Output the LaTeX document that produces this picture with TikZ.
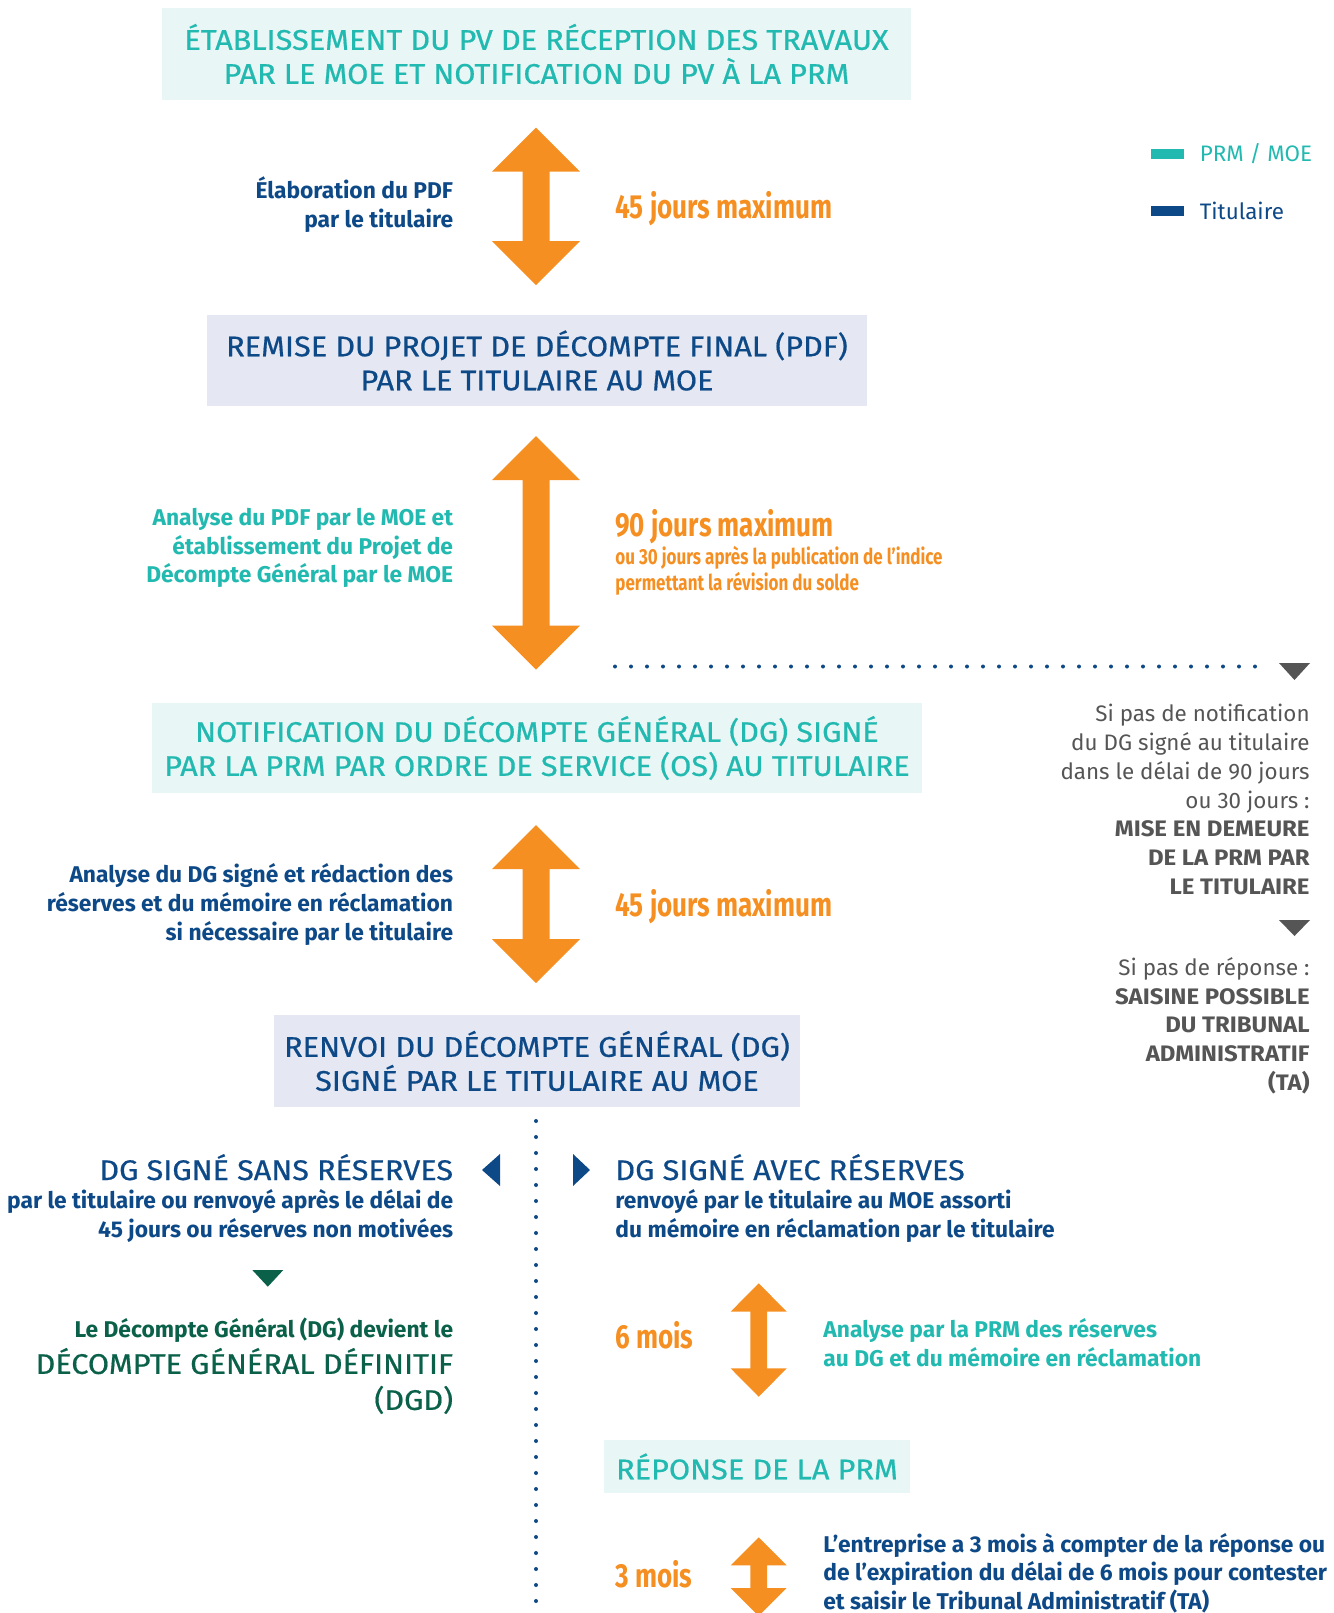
\documentclass[tikz,border=0pt]{standalone}
\usepackage{fontspec}
\setmainfont{Fira Sans}
\newfontfamily\condFont{Fira Sans}[FakeStretch=0.78]
\newfontfamily\titleFam{Fira Sans}[FakeStretch=1.08, FakeBold=0.6]
\newfontfamily\wideBold{Fira Sans}[FakeStretch=1.07]
\usetikzlibrary{positioning}

\definecolor{myTeal}{RGB}{34,185,176}
\definecolor{myNavy}{RGB}{14,73,135}
\definecolor{myOrange}{RGB}{245,143,34}
\definecolor{myGray}{RGB}{85,85,85}
\definecolor{myGreen}{RGB}{10,96,72}
\definecolor{tealBg}{RGB}{232,246,246}
\definecolor{navyBg}{RGB}{229,232,243}

\newcommand{\titleFont}{\titleFam\fontsize{14.2}{17}\selectfont}
\newcommand{\bodyFont}{\fontsize{11.4}{14.3}\selectfont\bfseries}
\newcommand{\delayFont}{\condFont\bfseries\fontsize{16.7}{20}\selectfont}
\newcommand{\smallDelayFont}{\condFont\bfseries\fontsize{10.9}{12.75}\selectfont}
\newcommand{\grayFont}{\fontsize{11.2}{14.35}\selectfont}
\newcommand{\grayBold}[1]{{\wideBold\bfseries #1}}
\newcommand{\legendFont}{\fontsize{11.2}{13}\selectfont}

% double headed orange arrow: x, top, bottom, half head, head height, half shaft
\newcommand{\orangeArrow}[6]{%
  \fill[myOrange] (#1,#2) -- (#1+#4,#2+#5) -- (#1+#6,#2+#5) -- (#1+#6,#3-#5)
    -- (#1+#4,#3-#5) -- (#1,#3) -- (#1-#4,#3-#5) -- (#1-#6,#3-#5)
    -- (#1-#6,#2+#5) -- (#1-#4,#2+#5) -- cycle;}

\begin{document}
\begin{tikzpicture}[x=0.5pt,y=-0.5pt]
    % --- STYLES ---
    \tikzset{
        prmBox/.style={fill=tealBg, text=myTeal, inner sep=0pt, align=center, font=\titleFont},
        titBox/.style={fill=navyBg, text=myNavy, inner sep=0pt, align=center, font=\titleFont},
        leftNote/.style={anchor=east, align=right, inner sep=0pt, font=\bodyFont},
        rightNote/.style={anchor=west, align=left, inner sep=0pt, font=\bodyFont},
        delayNode/.style={anchor=base west, inner sep=0pt, text=myOrange, font=\delayFont},
        grayNote/.style={anchor=east, align=right, inner sep=0pt, text=myGray, font=\grayFont},
        branchTitle/.style={inner sep=0pt, text=myNavy, font=\titleFont},
        dotLine/.style={draw=myNavy, line width=2pt, line cap=round, dash pattern=on 0pt off 8pt},
        legendBar/.style={minimum width=16.5pt, minimum height=5pt, inner sep=0pt}
    }

    \useasboundingbox (0,0) rectangle (1334,1613);

    % --- BOXES ---
    \node[prmBox, minimum width=374.5pt, minimum height=46pt] (pvReception) at (536.5,54)
        {ÉTABLISSEMENT DU PV DE RÉCEPTION DES TRAVAUX\\PAR LE MOE ET NOTIFICATION DU PV À LA PRM};
    \node[titBox, minimum width=330pt, minimum height=45.5pt] (remisePDF) at (537,360.5)
        {REMISE DU PROJET DE DÉCOMPTE FINAL (PDF)\\PAR LE TITULAIRE AU MOE};
    \node[prmBox, minimum width=384.75pt, minimum height=45.25pt] (notifDG) at (537,748)
        {NOTIFICATION DU DÉCOMPTE GÉNÉRAL (DG) SIGNÉ\\PAR LA PRM PAR ORDRE DE SERVICE (OS) AU TITULAIRE};
    \node[titBox, minimum width=262.7pt, minimum height=46pt] (renvoiDG) at (537,1061)
        {RENVOI DU DÉCOMPTE GÉNÉRAL (DG)\\SIGNÉ PAR LE TITULAIRE AU MOE};
    \node[prmBox, minimum width=153pt, minimum height=26.5pt] (reponsePRM) at (757,1466.5)
        {RÉPONSE DE LA PRM};

    % --- LEGEND ---
    \node[legendBar, fill=myTeal] (legPRM) at (1167.5,154) {};
    \node[right=7.5pt of legPRM, inner sep=0pt, text=myTeal, font=\legendFont] (legPRMtxt) {PRM / MOE};
    \node[legendBar, fill=myNavy] (legTit) at (1167.5,211) {};
    \node[right=7.5pt of legTit, inner sep=0pt, text=myNavy, font=\legendFont] (legTittxt) {Titulaire};

    % --- STEP 1 ---
    \orangeArrow{536}{127.5}{285}{44}{44}{13.5}
    \node[leftNote, text=myNavy] (elabPDF) at (453.5,204.5) {Élaboration du PDF\\par le titulaire};
    \node[delayNode] (delayA) at (615,218.5) {45 jours maximum};

    % --- STEP 2 ---
    \orangeArrow{536}{436}{669.6}{44}{44}{13.5}
    \node[leftNote, text=myTeal] (analysePDF) at (453.5,548)
        {Analyse du PDF par le MOE et\\établissement du Projet de\\Décompte Général par le MOE};
    \node[delayNode] (delayB) at (615,536) {90 jours maximum};
    \node[rightNote, text=myOrange, font=\smallDelayFont] (delayBsub) at (615,571)
        {ou 30 jours après la publication de l’indice\\permettant la révision du solde};

    % dotted branch to the right
    \coordinate (dotStart) at (615,666.5);
    \coordinate (dotEnd) at (1262,666.5);
    \draw[dotLine] (dotStart) -- (dotEnd);
    \fill[myGray] (1279,663) -- (1310,663) -- (1294.5,680) -- cycle;
    \node[grayNote] (miseDemeure) at (1310,799.5)
        {Si pas de notification\\du DG signé au titulaire\\dans le délai de 90 jours\\ou 30 jours :\\\grayBold{MISE EN DEMEURE}\\\grayBold{DE LA PRM PAR}\\\grayBold{LE TITULAIRE}};
    \fill[myGray] (1279,920) -- (1310,920) -- (1294.5,936) -- cycle;
    \node[grayNote] (saisineTA) at (1310,1025.5)
        {Si pas de réponse :\\\grayBold{SAISINE POSSIBLE}\\\grayBold{DU TRIBUNAL}\\\grayBold{ADMINISTRATIF}\\\grayBold{(TA)}};

    % --- STEP 3 ---
    \orangeArrow{536}{825}{983}{44}{44}{13.5}
    \node[leftNote, text=myNavy] (analyseDG) at (453.5,904.5)
        {Analyse du DG signé et rédaction des\\réserves et du mémoire en réclamation\\si nécessaire par le titulaire};
    \node[delayNode] (delayC) at (615,916.5) {45 jours maximum};

    % --- SPLIT ---
    \coordinate (splitTop) at (536,1121);
    \coordinate (splitBot) at (536,1620);
    \draw[dotLine] (splitTop) -- (splitBot);
    \fill[myNavy] (500,1154) -- (500,1186) -- (482,1170) -- cycle;
    \fill[myNavy] (573,1154) -- (573,1186) -- (590,1170) -- cycle;

    % left branch
    \node[branchTitle, anchor=base east] (sansRes) at (453.5,1180) {DG SIGNÉ SANS RÉSERVES};
    \node[leftNote, text=myNavy] (sansResTxt) at (453.5,1216)
        {par le titulaire ou renvoyé après le délai de\\45 jours ou réserves non motivées};
    \fill[myGreen] (252.3,1270) -- (283.3,1270) -- (267.8,1286.7) -- cycle;
    \node[leftNote, text=myGreen] (devientDGD) at (453.5,1330) {Le Décompte Général (DG) devient le};
    \node[anchor=east, align=right, inner sep=0pt, text=myGreen, font=\titleFam\fontsize{14.2}{18}\selectfont] (dgd)
        at (453.5,1381) {DÉCOMPTE GÉNÉRAL DÉFINITIF\\(DGD)};

    % right branch
    \node[branchTitle, anchor=base west] (avecRes) at (615,1180) {DG SIGNÉ AVEC RÉSERVES};
    \node[rightNote, text=myNavy] (avecResTxt) at (615,1216)
        {renvoyé par le titulaire au MOE assorti\\du mémoire en réclamation par le titulaire};
    \orangeArrow{758.7}{1283.3}{1396.7}{28}{28.3}{8.3}
    \node[delayNode] (delay6) at (615,1348.5) {6 mois};
    \node[rightNote, text=myTeal] (analysePRM) at (823,1342.5)
        {Analyse par la PRM des réserves\\au DG et du mémoire en réclamation};
    \orangeArrow{758.7}{1537.3}{1616}{28}{28}{8.3}
    \node[delayNode] (delay3) at (615,1587.5) {3 mois};
    \node[rightNote, text=myNavy] (contester) at (823,1573)
        {L’entreprise a 3 mois à compter de la réponse ou\\de l’expiration du délai de 6 mois pour contester\\et saisir le Tribunal Administratif (TA)};

\end{tikzpicture}
\end{document}
